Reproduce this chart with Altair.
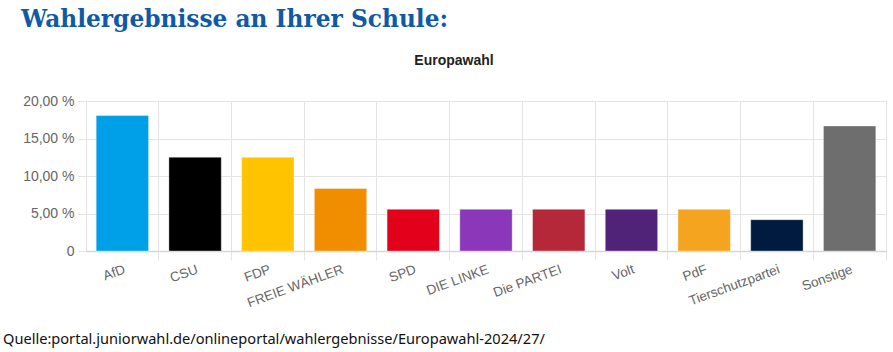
import altair as alt
import pandas as pd

parties = ["AfD", "CSU", "FDP", "FREIE WÄHLER", "SPD", "DIE LINKE", "Die PARTEI",
           "Volt", "PdF", "Tierschutzpartei", "Sonstige"]
shares = [18.06, 12.50, 12.50, 8.33, 5.56, 5.56, 5.56, 5.56, 5.56, 4.17, 16.67]
colors = ["#00A0E9", "#000000", "#FFC300", "#F08E00", "#E3001B", "#8A37BA",
          "#B5283A", "#502379", "#F4A41E", "#001A40", "#6E6E6E"]
title_text = "Wahlergebnisse an Ihrer Schule:"
subtitle_text = "Europawahl"
source_text = "Quelle:portal.juniorwahl.de/onlineportal/wahlergebnisse/Europawahl-2024/27/"

df = pd.DataFrame({"party": parties, "share": shares})

PI, PO = 0.28, 0.14
band_pos = 1 + (PI / 2) / (1 - PI)

x = alt.X("party:N", sort=parties, title=None,
          scale=alt.Scale(paddingInner=PI, paddingOuter=PO),
          axis=alt.Axis(labelAngle=-20, labelAlign="right", labelBaseline="top",
                        labelFont="Liberation Sans", labelFontSize=13.5, labelColor="#666666",
                        labelPadding=2, bandPosition=band_pos,
                        grid=True, gridColor="#e4e4e4",
                        tickColor="#e4e4e4", tickSize=9, domainColor="#d6d6d6",
                        domainWidth=1.5))
y = alt.Y("share:Q", title=None,
          scale=alt.Scale(domain=[0, 20]),
          axis=alt.Axis(values=[0, 5, 10, 15, 20],
                        labelExpr="datum.value == 0 ? '0' : replace(format(datum.value, '.2f'), '.', ',') + ' %'",
                        labelFont="Liberation Sans", labelFontSize=14, labelColor="#666666",
                        labelPadding=4, gridColor="#e4e4e4", tickColor="#e4e4e4",
                        tickSize=8, domainColor="#e4e4e4"))

bars = alt.Chart(df).mark_bar(strokeWidth=1, strokeOpacity=0.35, stroke="#ffffff").encode(
    x=x, y=y,
    color=alt.Color("party:N", scale=alt.Scale(domain=parties, range=colors), legend=None),
)

title = alt.Chart(pd.DataFrame({"t": [title_text]})).mark_text(
    align="left", baseline="alphabetic", font="DejaVu Serif", fontWeight="bold",
    fontSize=23.3, color="#0E5AA7").encode(
    text="t:N", x=alt.value(-65), y=alt.value(-74))

sub = alt.Chart(pd.DataFrame({"t": [subtitle_text]})).mark_text(
    align="center", baseline="middle", font="Liberation Sans", fontWeight="bold",
    fontSize=14, color="#222222").encode(
    text="t:N", x=alt.value(368), y=alt.value(-40))

src = alt.Chart(pd.DataFrame({"t": [source_text]})).mark_text(
    align="left", baseline="middle", font="Noto Sans", fontSize=14.6,
    color="#111111").encode(
    text="t:N", x=alt.value(-83), y=alt.value(239))

chart = alt.layer(bars, title, sub, src).properties(
    width=800, height=150,
    autosize=alt.AutoSizeParams(type="none"),
    padding={"left": 86, "top": 101, "right": 7, "bottom": 101},
).configure_view(stroke=None).configure(background="white")

chart.save("out.html", embed_options={"renderer": "svg", "actions": False})
